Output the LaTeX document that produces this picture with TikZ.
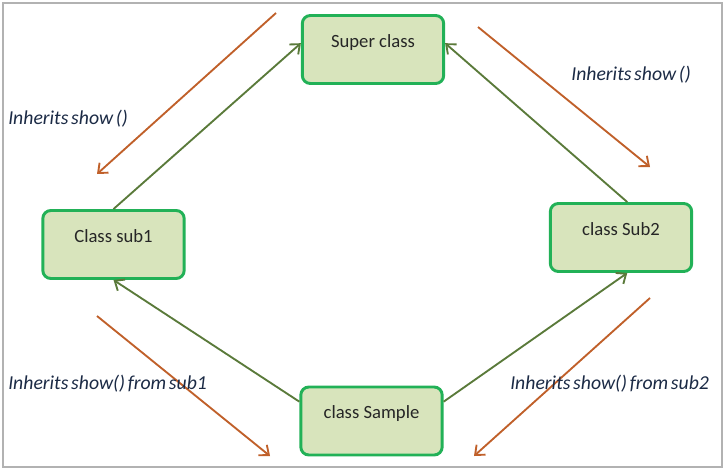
\documentclass[tikz,border=0pt]{standalone}
\usepackage{fontspec}
\setmainfont{Carlito}
\usetikzlibrary{arrows.meta}
\definecolor{boxgreen}{HTML}{22B157}
\definecolor{boxfill}{HTML}{D8E4BC}
\definecolor{linkgreen}{HTML}{5A7A3A}
\definecolor{inhbrown}{HTML}{C0602A}
\definecolor{textnavy}{HTML}{1B2A45}
\newcommand{\tightspace}{\spaceskip=2pt plus 1pt minus 0.5pt\relax}
\tikzset{
	classbox/.style={draw=boxgreen, line width=2.2pt, fill=boxfill, rounded corners=6pt,
		minimum width=106pt, minimum height=51pt, text height=10pt, text depth=13.5pt,
		font=\fontsize{14}{16}\selectfont, text=black!85},
	link/.style={draw=linkgreen, line width=1.4pt, -{Straight Barb[length=6pt,width=10pt]}},
	inh/.style={draw=inhbrown, line width=1.4pt, -{Straight Barb[length=6pt,width=10pt]}},
	inhtext/.style={anchor=west, inner sep=0pt, font=\fontsize{14.8}{17}\selectfont\itshape\tightspace, text=textnavy}
}
\begin{document}
\begin{tikzpicture}[x=0.75pt,y=-0.75pt]
	\useasboundingbox (0,0) rectangle (727,472);
	% Rahmen
	\draw [black!30, line width=1pt] (3,3) rectangle (722,467);
	% Klassen
	\node [classbox] (sup) at (373,49.5) {Super class};
	\node [classbox] (sub1) at (113.5,244.5) {Class sub1};
	\node [classbox] (sub2) at (621,237.5) {class Sub2};
	\node [classbox] (sample) at (371.5,421) {class Sample};
	% Vererbung
	\draw [link] (sub1.north) -- (sup.175);
	\draw [link] (sub2.80) -- (sup.5);
	\draw [link] (sample.165) -- (sub1.south);
	\draw [link] (sample.15) -- (sub2.-80);
	% Pfeile fuer show()
	\coordinate (a1) at (276,13);  \coordinate (a2) at (97,174);
	\coordinate (b1) at (478,27);  \coordinate (b2) at (650,167);
	\coordinate (c1) at (97,316);  \coordinate (c2) at (270,456);
	\coordinate (d1) at (650,298); \coordinate (d2) at (474,456);
	\draw [inh] (a1) -- (a2);
	\draw [inh] (b1) -- (b2);
	\draw [inh] (c1) -- (c2);
	\draw [inh] (d1) -- (d2);
	% Beschriftungen
	\node [inhtext] (lbl1) at (8,119) {Inherits show ()};
	\node [inhtext] (lbl2) at (571,75) {Inherits show ()};
	\node [inhtext] (lbl3) at (8,384) {Inherits show() from sub1};
	\node [inhtext] (lbl4) at (510,384) {Inherits show() from sub2};
\end{tikzpicture}
\end{document}
